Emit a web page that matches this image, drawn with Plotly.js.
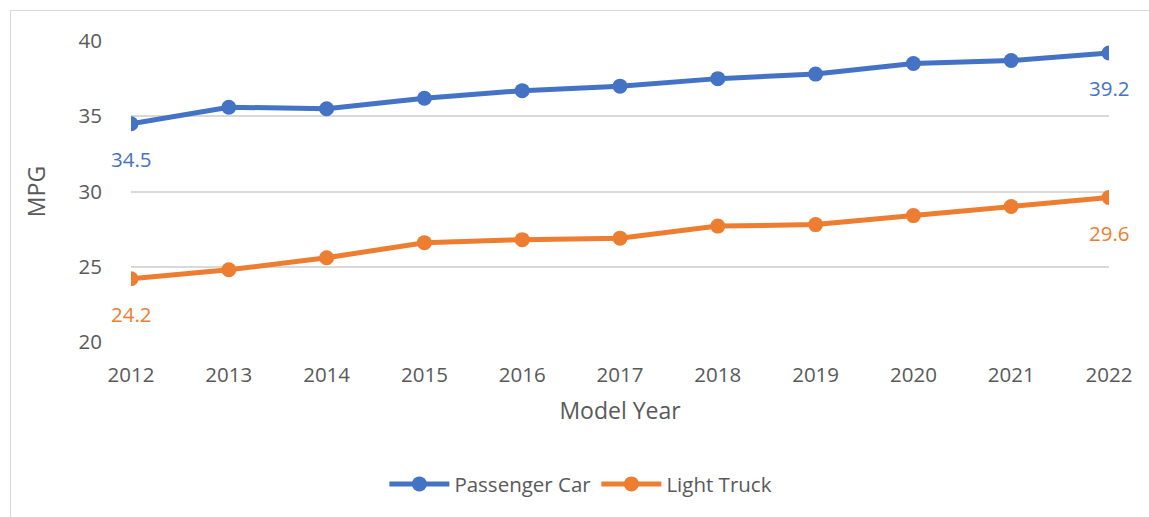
<!DOCTYPE html>
<html>
<head>
<meta charset="utf-8">
<script src="https://cdn.plot.ly/plotly-3.0.1.min.js"></script>
<style>
html,body{margin:0;padding:0;background:#fff;overflow:hidden;}
#frame{position:absolute;left:10px;top:10px;width:1200px;height:600px;border:1.5px solid #d9d9d9;pointer-events:none;z-index:5;}
#chart{position:absolute;left:0;top:0;width:1149px;height:517px;}
</style>
</head>
<body>
<div id="chart"></div>
<div id="frame"></div>
<script>
const years = [2012, 2013, 2014, 2015, 2016, 2017, 2018, 2019, 2020, 2021, 2022];
const passengerCar = [34.5, 35.6, 35.5, 36.2, 36.7, 37.0, 37.5, 37.8, 38.5, 38.7, 39.2];
const lightTruck = [24.2, 24.8, 25.6, 26.6, 26.8, 26.9, 27.7, 27.8, 28.4, 29.0, 29.6];
const yTicks = [20, 25, 30, 35, 40];

const blue = '#4472c4';
const orange = '#ed7d31';
const font = 'Open Sans, Noto Sans, sans-serif';

const traces = [
  {x: years, y: passengerCar, name: 'Passenger Car', mode: 'lines+markers',
   line: {color: blue, width: 5}, marker: {color: blue, size: 15}},
  {x: years, y: lightTruck, name: 'Light Truck', mode: 'lines+markers',
   line: {color: orange, width: 5}, marker: {color: orange, size: 15}}
];

const last = years.length - 1;
const annotations = [
  {x: years[0], y: passengerCar[0], text: String(passengerCar[0]), color: blue},
  {x: years[last], y: passengerCar[last], text: String(passengerCar[last]), color: blue},
  {x: years[0], y: lightTruck[0], text: String(lightTruck[0]), color: orange},
  {x: years[last], y: lightTruck[last], text: String(lightTruck[last]), color: orange}
].map(a => ({x: a.x, y: a.y, xref: 'x', yref: 'y', text: a.text, showarrow: false,
  yshift: -35, font: {family: font, size: 20.5, color: a.color}}));

const layout = {
  width: 1149, height: 517,
  margin: {l: 131, r: 40, t: 41, b: 175},
  paper_bgcolor: '#fff', plot_bgcolor: '#fff',
  font: {family: font, color: '#595959', size: 20},
  showlegend: true,
  legend: {orientation: 'h', x: 0.46, xanchor: 'center', y: -0.472, yanchor: 'middle',
    font: {family: font, size: 20.5, color: '#595959'}, itemwidth: 60},
  xaxis: {range: [2012, 2022], tickvals: years, ticktext: years.map(String),
    showgrid: false, zeroline: false, showline: false,
    ticks: 'outside', ticklen: 14, tickcolor: 'rgba(0,0,0,0)',
    tickfont: {family: font, size: 20.5, color: '#595959'},
    title: {text: 'Model Year', font: {family: font, size: 23, color: '#595959'}, standoff: 16},
    automargin: false},
  yaxis: {range: [20, 40], tickvals: yTicks, showgrid: true, gridcolor: '#d9d9d9', gridwidth: 2,
    zeroline: false, showline: false,
    ticks: 'outside', ticklen: 24, tickcolor: 'rgba(0,0,0,0)',
    tickfont: {family: font, size: 20.5, color: '#595959'},
    title: {text: 'MPG', font: {family: font, size: 23, color: '#595959'}, standoff: 26},
    automargin: false},
  annotations: annotations
};

Plotly.newPlot('chart', traces, layout, {displayModeBar: false, staticPlot: true});
</script>
</body>
</html>
